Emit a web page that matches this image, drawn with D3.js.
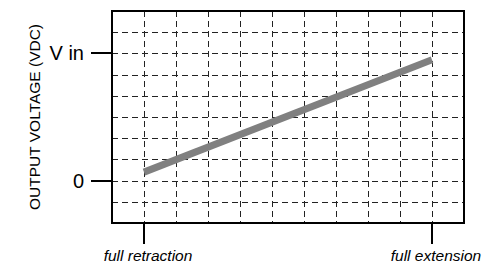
<!DOCTYPE html>
<html>
<head>
<meta charset="utf-8">
<script src="https://cdn.jsdelivr.net/npm/d3@7"></script>
<style>
    body { margin: 0; background: #fff; }
    svg { display: block; font-family: "Liberation Sans", Arial, sans-serif; }
</style>
</head>
<body>
<svg width="483" height="265"></svg>
<script>
    // grid units: x runs -1..10, y runs -2..8
    const xGrid = [0, 1, 2, 3, 4, 5, 6, 7, 8, 9],
        yGrid = [-1, 0, 1, 2, 3, 4, 5, 6, 7];

    const xTicks = [0, 9],
        xTickLabels = ['full retraction', 'full extension'];

    const yTicks = [0, 6],
        yTickLabels = ['0', 'V in'];

    // output voltage vs stroke position
    const stroke = [0, 9],
        voltage = [0.4, 5.7];

    const svg = d3.select('svg');

    const x = d3.scaleLinear().domain([-1, 10]).range([112, 464]);
    const y = d3.scaleLinear().domain([-2, 8]).range([223, 11]);

    // grid
    svg.append('g').selectAll('line')
        .data(xGrid)
        .join('line')
        .attr('x1', d => Math.round(x(d)) + 0.5)
        .attr('x2', d => Math.round(x(d)) + 0.5)
        .attr('y1', y(8))
        .attr('y2', y(-2))
        .attr('stroke', '#222')
        .attr('stroke-dasharray', '6,4');

    svg.append('g').selectAll('line')
        .data(yGrid)
        .join('line')
        .attr('x1', x(-1))
        .attr('x2', x(10))
        .attr('y1', d => Math.round(y(d)) + 0.5)
        .attr('y2', d => Math.round(y(d)) + 0.5)
        .attr('stroke', '#222')
        .attr('stroke-dasharray', '6,4');

    // the signal
    const pts = stroke.map((s, i) => [s, voltage[i]]);
    svg.append('path')
        .datum(pts)
        .attr('d', d3.line().x(d => x(d[0])).y(d => y(d[1])))
        .attr('fill', 'none')
        .attr('stroke', '#808080')
        .attr('stroke-width', 7);

    // frame
    svg.append('rect')
        .attr('x', x(-1))
        .attr('y', y(8))
        .attr('width', x(10) - x(-1))
        .attr('height', y(-2) - y(8))
        .attr('fill', 'none')
        .attr('stroke', '#000')
        .attr('stroke-width', 2);

    // y ticks
    const yAxis = svg.append('g');
    yAxis.selectAll('line')
        .data(yTicks)
        .join('line')
        .attr('x1', x(-1) - 21)
        .attr('x2', x(-1))
        .attr('y1', d => Math.round(y(d)))
        .attr('y2', d => Math.round(y(d)))
        .attr('stroke', '#000')
        .attr('stroke-width', 2);

    yAxis.selectAll('text')
        .data(yTicks)
        .join('text')
        .attr('x', x(-1) - 28)
        .attr('y', d => y(d) + 7)
        .attr('text-anchor', 'end')
        .attr('font-size', 20)
        .text((d, i) => yTickLabels[i]);

    // x ticks
    const xAxis = svg.append('g');
    xAxis.selectAll('line')
        .data(xTicks)
        .join('line')
        .attr('x1', d => Math.round(x(d)))
        .attr('x2', d => Math.round(x(d)))
        .attr('y1', y(-2))
        .attr('y2', y(-2) + 21)
        .attr('stroke', '#000')
        .attr('stroke-width', 2);

    xAxis.selectAll('text')
        .data(xTicks)
        .join('text')
        .attr('x', d => x(d) + 4)
        .attr('y', 261)
        .attr('text-anchor', 'middle')
        .attr('font-size', 15.5)
        .attr('font-style', 'italic')
        .text((d, i) => xTickLabels[i]);

    // axis title
    svg.append('text')
        .attr('transform', `translate(40, ${y(3)}) rotate(-90)`)
        .attr('text-anchor', 'middle')
        .attr('font-size', 15.5)
        .text('OUTPUT VOLTAGE (VDC)');
</script>
</body>
</html>
